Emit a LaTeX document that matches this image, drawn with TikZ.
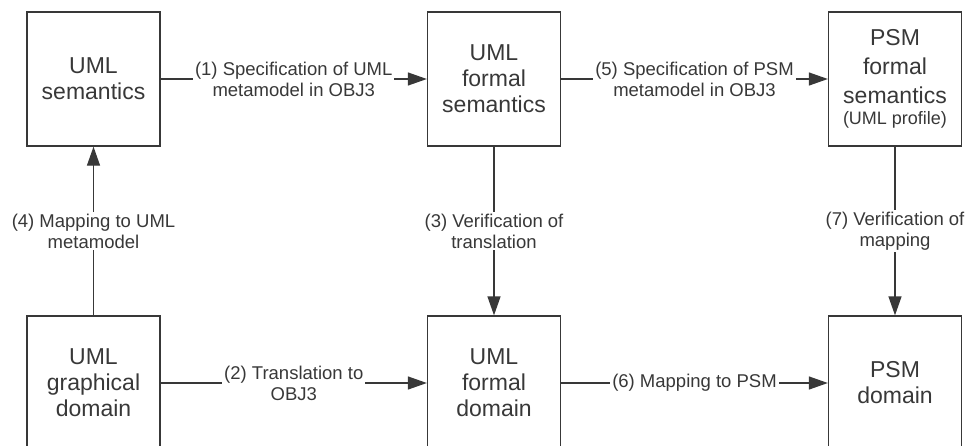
\documentclass[tikz,border=0pt]{standalone}
\usepackage{fontspec}
\setmainfont{Liberation Sans}
\usetikzlibrary{arrows.meta}
\definecolor{InkGray}{HTML}{383838}

\begin{document}
\begin{tikzpicture}[
    x=0.5pt, y=-0.5pt,
    every node/.style={text=InkGray},
    block/.style={
      draw=InkGray,
      line width=0.65pt,
      minimum width=66.5pt,
      minimum height=67pt,
      inner sep=2pt,
      align=center,
      font=\fontsize{11.5}{13}\selectfont
    },
    flowlabel/.style={
      fill=white,
      inner sep=1pt,
      align=center,
      font=\fontsize{9.25}{10.5}\selectfont
    },
    flow/.style={
      draw=InkGray,
      line width=0.65pt,
      -{Triangle[length=9.5pt,width=6.5pt]}
    }
  ]
  \useasboundingbox (0,0) rectangle (969,445);

  % semantics row
  \node[block] (umlsem) at (93.5,79) {UML\\semantics};
  \node[block] (umlfsem) at (494,79) {UML\\formal\\semantics};
  \node[block, font=\fontsize{11.5}{14.5}\selectfont] (psmfsem) at (895,79)
    {PSM\\formal\\semantics\\[-4pt]{\fontsize{9}{10}\selectfont (UML profile)}};

  % domain row
  \node[block] (umlgd) at (93.5,383) {UML\\graphical\\domain};
  \node[block] (umlfd) at (494,383) {UML\\formal\\domain};
  \node[block] (psmd) at (895,383) {PSM\\domain};

  % steps
  \draw[flow] (umlsem) -- node[flowlabel] {(1) Specification of UML\\metamodel in OBJ3} (umlfsem);
  \draw[flow] (umlfsem) -- node[flowlabel] {(5) Specification of PSM\\metamodel in OBJ3} (psmfsem);
  \draw[flow] (umlgd) -- node[flowlabel] {(2) Translation to\\OBJ3} (umlfd);
  \draw[flow] (umlfd) -- node[flowlabel] {(6) Mapping to PSM} (psmd);
  \draw[flow] (umlgd) -- node[flowlabel] {(4) Mapping to UML\\metamodel} (umlsem);
  \draw[flow] (umlfsem) -- node[flowlabel] {(3) Verification of\\translation} (umlfd);
  \draw[flow] (psmfsem) -- node[flowlabel] {(7) Verification of\\mapping} (psmd);
\end{tikzpicture}
\end{document}
